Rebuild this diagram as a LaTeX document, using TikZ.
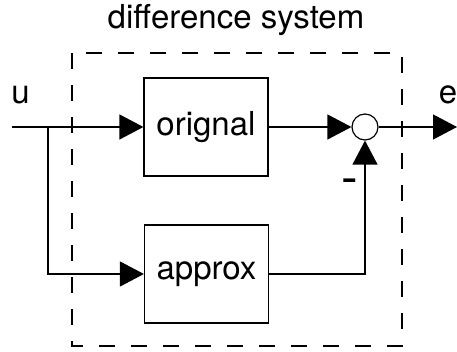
\documentclass[tikz,border=0pt]{standalone}
\usepackage{fontspec}
\setmainfont{TeX Gyre Heros}
\usetikzlibrary{arrows.meta}
\tikzset{
  blk/.style={draw, line width=1.2pt, minimum width=124pt, minimum height=98pt, inner sep=0pt, font=\fontsize{33}{38}\selectfont},
  lbl/.style={inner sep=0pt, font=\fontsize{33}{38}\selectfont},
  wire/.style={line width=1.2pt},
  sig/.style={wire, -{Triangle[length=24pt,width=25pt]}},
  frame/.style={line width=1.1pt, dash pattern=on 16pt off 16pt},
}
\begin{document}
\begin{tikzpicture}[x=1pt, y=-1pt]
  \useasboundingbox (0,0) rectangle (457,352);
  % subsystem frame and its title
  \draw[frame] (72,53) rectangle (402,346);
  \node[lbl, anchor=base] (title) at (236,29) {difference system};
  % blocks
  \node[blk] (orig) at (206,127) {orignal};
  \node[blk] (appr) at (206.5,274) {approx};
  \node[draw, wire, circle, minimum size=26pt, inner sep=0pt] (sum) at (365,127) {};
  % terminals
  \coordinate (in) at (12,127);
  \coordinate (split) at (48,127);
  \coordinate (out) at (457,127);
  \node[lbl, anchor=base] (ulbl) at (20.5,104) {u};
  \node[lbl, anchor=base] (elbl) at (448,104) {e};
  \node[lbl, font=\fontsize{50}{56}\selectfont] (minus) at (349.5,187) {-};
  % signal flow
  \draw[sig] (in) -- (orig.west);
  \draw[sig] (split) |- (appr.west);
  \draw[sig] (orig.east) -- (sum.west);
  \draw[sig] (appr.east) -| (sum.south);
  \draw[sig] (sum.east) -- (out);
\end{tikzpicture}
\end{document}
